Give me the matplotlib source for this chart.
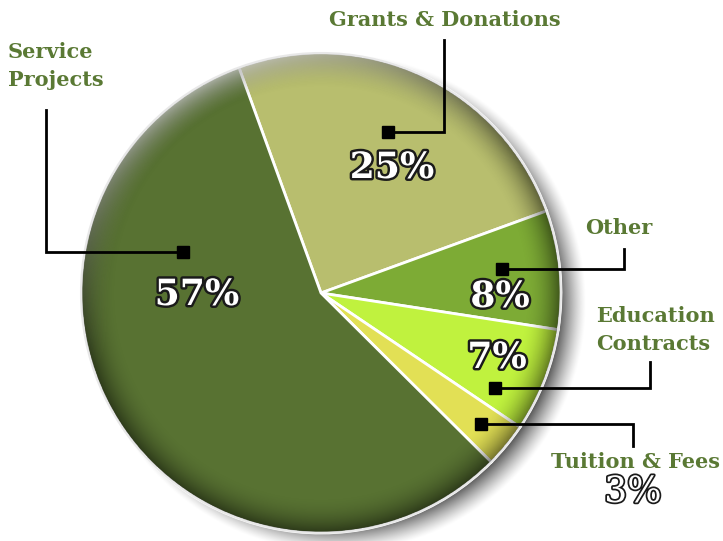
import numpy as np
import matplotlib
matplotlib.use("Agg")
import matplotlib.pyplot as plt
import matplotlib.patheffects as pe
from matplotlib.patches import Circle

# data
labels = ["Grants & Donations", "Other", "Education\nContracts", "Tuition & Fees", "Service\nProjects"]
values = [25, 8, 7, 3, 57]
colors = ["#b8be6e", "#7dab35", "#c0f23e", "#e2e055", "#587232"]

W, H = 723, 541
txt_green = "#5a7934"

fig = plt.figure(figsize=(W / 100, H / 100), dpi=100)
ax = fig.add_axes([0, 0, 1, 1])
ax.set_xlim(0, W)
ax.set_ylim(0, H)
ax.axis("off")

def Y(py):
    return H - py

cx, cy, R = 321, Y(293), 240

# drop shadow
n = 400
sx, sy, ext = cx + 16, cy - 10, R + 45
xs = np.linspace(sx - ext, sx + ext, n)
ys = np.linspace(sy - ext, sy + ext, n)
XX, YY = np.meshgrid(xs, ys)
d = np.sqrt((XX - sx) ** 2 + (YY - sy) ** 2)
sh = np.zeros((n, n, 4))
sh[..., 3] = 0.75 * np.clip((R + 10 - d) / 30, 0, 1) ** 1.3
ax.imshow(sh, extent=[sx - ext, sx + ext, sy - ext, sy + ext], origin="lower",
          zorder=0, interpolation="bilinear")

wedges, _ = ax.pie(values, colors=colors, startangle=110, counterclock=False,
                   center=(cx, cy), radius=R, frame=True,
                   wedgeprops=dict(edgecolor="white", linewidth=2))
for w in wedges:
    w.set_zorder(1)

# edge shading / highlight
xs = np.linspace(cx - R, cx + R, n)
ys = np.linspace(cy - R, cy + R, n)
XX, YY = np.meshgrid(xs, ys)
rr = np.sqrt((XX - cx) ** 2 + (YY - cy) ** 2) / R
th = np.arctan2(YY - cy, XX - cx)
inside = rr <= 1.0
dark = np.zeros((n, n, 4))
dark[..., 3] = np.where(inside, 0.5 * np.clip((rr - 0.85) / 0.15, 0, 1) ** 2, 0)
light = np.ones((n, n, 4))
lit = np.clip(np.cos(th - np.radians(115)), 0, 1) ** 2
light[..., 3] = np.where(inside, 0.6 * lit * np.clip((rr - 0.87) / 0.13, 0, 1) ** 1.5, 0)
ax.imshow(dark, extent=[cx - R, cx + R, cy - R, cy + R], origin="lower",
          zorder=2, interpolation="bilinear")
ax.imshow(light, extent=[cx - R, cx + R, cy - R, cy + R], origin="lower",
          zorder=2, interpolation="bilinear")
ax.add_patch(Circle((cx, cy), R, fill=False, edgecolor="#e8e8e8", linewidth=1.5, zorder=3))
ax.set_xlim(0, W)
ax.set_ylim(0, H)
ax.set_aspect("auto")

# leader lines (pixel coords)
leaders = [
    [(444, 40), (444, 132), (388, 132)],
    [(624, 249), (624, 269), (502, 269)],
    [(650, 362), (650, 388), (495, 388)],
    [(633, 446), (633, 424), (481, 424)],
    [(46, 110), (46, 252), (183, 252)],
]
for pts in leaders:
    px = [p[0] for p in pts]
    py = [Y(p[1]) for p in pts]
    ax.plot(px, py, color="black", lw=2, zorder=4, solid_joinstyle="miter")
    ax.plot(px[-1], py[-1], marker="s", ms=8, color="black", zorder=5)

# category labels
lab_pos = [(445, 20, "center"), (585, 228, "left"), (596, 330, "left"),
           (551, 462, "left"), (8, 66, "left")]
for lab, (x, y, ha) in zip(labels, lab_pos):
    ax.text(x, Y(y), lab, ha=ha, va="center", fontsize=15, fontweight="bold",
            family="DejaVu Serif", color=txt_green, linespacing=1.45, zorder=6)

# percentage labels
pct_pos = [(392, 168), (500, 297), (497, 358), (633, 492), (197, 295)]
for v, (x, y) in zip(values, pct_pos):
    bold = v != 3
    ax.text(x, Y(y), f"{v}%", ha="center", va="center", fontsize=26,
            fontweight="bold" if bold else "normal", family="DejaVu Serif",
            color="white", zorder=6,
            path_effects=[pe.withStroke(linewidth=3.5 if bold else 2.5, foreground="#1a1a1a")])

fig.savefig("out.png", dpi=100)
